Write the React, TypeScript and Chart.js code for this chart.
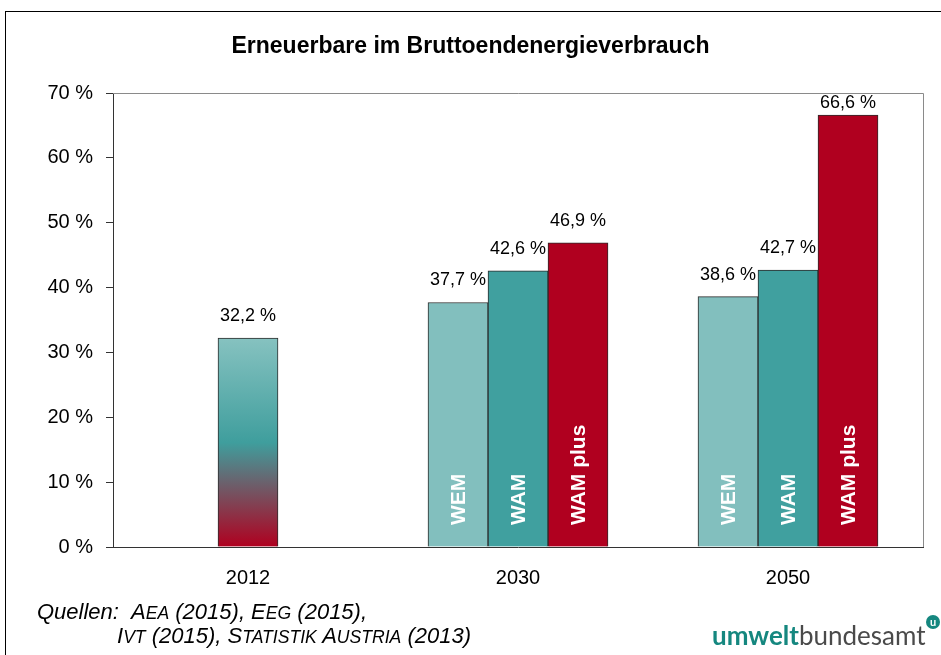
import React, { useEffect, useRef } from "react";
import { Chart, registerables } from "chart.js";

Chart.register(...registerables);

const categories = ["2012", "2030", "2050"];
const seriesNames = ["2012", "WEM", "WAM", "WAM plus"];
const values2012 = [32.2, null, null];
const valuesWEM = [null, 37.7, 38.6];
const valuesWAM = [null, 42.6, 42.7];
const valuesWAMplus = [null, 46.9, 66.6];
const yTicks = [0, 10, 20, 30, 40, 50, 60, 70];

const TITLE = "Erneuerbare im Bruttoendenergieverbrauch";
const FONT = "'Liberation Sans', Arial, sans-serif";

const C_WEM = "#82bfbe";
const C_WAM = "#40a09f";
const C_PLUS = "#b0001f";

function fmt(v: number) {
  return v.toFixed(1).replace(".", ",") + " %";
}

const decorPlugin = {
  id: "decor",
  beforeDatasetsDraw(chart: any) {
    const { ctx, chartArea } = chart;
    ctx.save();
    ctx.strokeStyle = "#8a8a8a";
    ctx.lineWidth = 1;
    ctx.beginPath();
    ctx.moveTo(chartArea.left, chartArea.top + 0.5);
    ctx.lineTo(chartArea.right + 0.5, chartArea.top + 0.5);
    ctx.lineTo(chartArea.right + 0.5, chartArea.bottom);
    ctx.stroke();
    ctx.restore();
  },
  afterDatasetsDraw(chart: any) {
    const { ctx, chartArea } = chart;
    const yScale = chart.scales.y;
    ctx.save();
    ctx.fillStyle = "#000";
    ctx.font = `bold 23px ${FONT}`;
    ctx.textAlign = "center";
    ctx.textBaseline = "middle";
    ctx.fillText(TITLE, chart.width / 2, 47);

    chart.data.datasets.forEach((ds: any, di: number) => {
      const meta = chart.getDatasetMeta(di);
      meta.data.forEach((bar: any, i: number) => {
        const v = ds.data[i];
        if (v === null || v === undefined) return;
        ctx.fillStyle = "#000";
        ctx.font = `18px ${FONT}`;
        ctx.textAlign = "center";
        ctx.textBaseline = "middle";
        const y = Math.max(bar.y - 22, chartArea.top + 10);
        ctx.fillText(fmt(v), bar.x, y);
        if (di > 0) {
          ctx.save();
          ctx.translate(bar.x, yScale.bottom - 22);
          ctx.rotate(-Math.PI / 2);
          ctx.fillStyle = "#ffffff";
          ctx.font = `bold 21px ${FONT}`;
          ctx.textAlign = "left";
          ctx.textBaseline = "middle";
          ctx.fillText(ds.label, 0, 1);
          ctx.restore();
        }
      });
    });
    ctx.restore();
  },
};

function SmallCaps({ text }: { text: string }) {
  return (
    <>
      {text.split(" ").map((w, i) => (
        <React.Fragment key={i}>
          {i > 0 ? " " : ""}
          {w.charAt(0).toUpperCase()}
          <span style={{ fontSize: "0.8em" }}>{w.slice(1).toUpperCase()}</span>
        </React.Fragment>
      ))}
    </>
  );
}

export default function App() {
  const ref = useRef<HTMLCanvasElement | null>(null);

  useEffect(() => {
    if (!ref.current) return;
    const gradientFill = (c: any) => {
      const chart = c.chart;
      const ys = chart.scales && chart.scales.y;
      if (!ys || !c.parsed || c.parsed.y == null) return C_WAM;
      const top = ys.getPixelForValue(c.parsed.y);
      const bottom = ys.getPixelForValue(0);
      if (!isFinite(top) || !isFinite(bottom) || top === bottom) return C_WAM;
      const g = chart.ctx.createLinearGradient(0, top, 0, bottom);
      g.addColorStop(0, "#86c2c0");
      g.addColorStop(0.5, "#3f9e9d");
      g.addColorStop(1, "#b0001f");
      return g;
    };
    const chart = new Chart(ref.current, {
      type: "bar",
      data: {
        labels: categories,
        datasets: [
          { label: seriesNames[0], data: values2012, backgroundColor: gradientFill },
          { label: seriesNames[1], data: valuesWEM, backgroundColor: C_WEM },
          { label: seriesNames[2], data: valuesWAM, backgroundColor: C_WAM },
          { label: seriesNames[3], data: valuesWAMplus, backgroundColor: C_PLUS },
        ] as any,
      },
      options: {
        animation: false,
        responsive: false,
        devicePixelRatio: 1,
        skipNull: true,
        barThickness: 60,
        borderColor: "#2b2b2b",
        borderWidth: 1,
        layout: { padding: { left: 0, right: 18, top: 93, bottom: 68 } },
        plugins: {
          legend: { display: false },
          title: { display: false },
          tooltip: { enabled: false },
        },
        scales: {
          x: {
            offset: true,
            grid: { display: false },
            border: { display: true, color: "#333", width: 1 },
            ticks: { color: "#000", font: { family: FONT, size: 20 }, padding: 11 },
            afterFit: (s: any) => { s.height = 40; },
          },
          y: {
            min: 0,
            max: 70,
            afterBuildTicks: (s: any) => { s.ticks = yTicks.map((v) => ({ value: v })); },
            grid: { drawOnChartArea: false, tickLength: 7, color: "#333" },
            border: { display: true, color: "#333", width: 1 },
            ticks: {
              color: "#000",
              font: { family: FONT, size: 20 },
              padding: 13,
              callback: (v: any) => `${v} %`,
            },
            afterFit: (s: any) => { s.width = 113; },
          },
        },
      } as any,
      plugins: [decorPlugin],
    });
    return () => chart.destroy();
  }, []);

  const srcStyle: React.CSSProperties = {
    position: "absolute", fontFamily: FONT, fontStyle: "italic", fontSize: 22,
    lineHeight: "24px", color: "#000", whiteSpace: "nowrap",
  };
  return (
    <div style={{ position: "absolute", left: 0, top: 0, width: 941, height: 655, overflow: "hidden", background: "#fff" }}>
      <div style={{ position: "absolute", left: 5, top: 11, width: 1000, height: 1000, borderLeft: "1px solid #000", borderTop: "1px solid #000" }} />
      <canvas ref={ref} width={941} height={655} style={{ position: "absolute", left: 0, top: 0, width: 941, height: 655 }} />
      <div style={{ ...srcStyle, left: 37, top: 600 }}>Quellen:</div>
      <div style={{ ...srcStyle, left: 131, top: 600 }}>
        <SmallCaps text="Aea" /> (2015), <SmallCaps text="Eeg" /> (2015),
      </div>
      <div style={{ ...srcStyle, left: 117, top: 624 }}>
        <SmallCaps text="Ivt" /> (2015), <SmallCaps text="Statistik Austria" /> (2013)
      </div>
      <div style={{ position: "absolute", left: 712, top: 620, fontFamily: "Lato, 'Open Sans', sans-serif", fontSize: 26, lineHeight: "30px", whiteSpace: "nowrap" }}>
        <span style={{ color: "#15877f", fontWeight: 700 }}>umwelt</span>
        <span style={{ color: "#4a4a4a", fontWeight: 400 }}>bundesamt</span>
      </div>
      <div style={{ position: "absolute", left: 926, top: 615, width: 14, height: 14, borderRadius: "50%", background: "#15877f", color: "#fff", fontFamily: "Lato, sans-serif", fontWeight: 700, fontSize: 11, lineHeight: "13px", textAlign: "center" }}>
        u
      </div>
    </div>
  );
}
